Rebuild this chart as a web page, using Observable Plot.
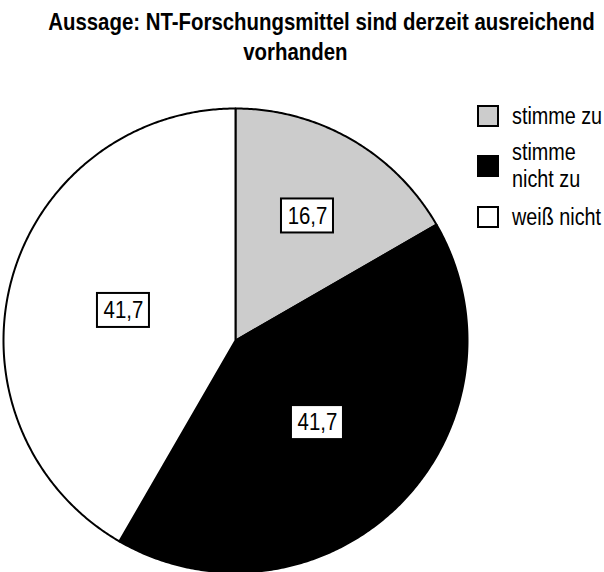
<!DOCTYPE html>
<html>
<head>
<meta charset="utf-8">
<script src="https://cdn.jsdelivr.net/npm/d3@7"></script>
<script src="https://cdn.jsdelivr.net/npm/@observablehq/plot@0.6"></script>
<style>
  html, body { margin: 0; padding: 0; background: #fff; }
  body { width: 604px; height: 572px; position: relative; overflow: hidden;
         font-family: "Liberation Sans", Arial, sans-serif; color: #000; }
  #title { position: absolute; left: 0; top: 7px; width: 590px; text-align: center;
           font-weight: bold; font-size: 24px; line-height: 30px; }
  #title span { display: inline-block; white-space: nowrap; transform: scaleX(0.85); transform-origin: 50% 50%; }
  #chart { position: absolute; left: 0; top: 100px; }
  .item { position: absolute; left: 477px; display: flex; align-items: center; font-size: 23px; line-height: 27px; }
  .sw { width: 18px; height: 18px; border: 2px solid #000; margin-right: 13px; flex: none; }
  .tx { white-space: nowrap; transform: scaleX(0.86); transform-origin: 0 50%; }
</style>
</head>
<body>
<div id="title"><span>Aussage: NT-Forschungsmittel sind derzeit ausreichend</span><br><span>vorhanden</span></div>
<div id="chart"></div>
<div id="legend"></div>
<script>
const categories = ["stimme zu", "stimme nicht zu", "weiß nicht"];
const legendLabels = [["stimme zu"], ["stimme", "nicht zu"], ["weiß nicht"]];
const values = [16.7, 41.7, 41.7];
const colors = ["#cccccc", "#000000", "#ffffff"];

// layout constants (pixels)
const W = 604, H = 472, CX = 235, CY = 240, R = 232;
const legendCenters = [116, 166, 217];

const arcs = d3.pie().sort(null).startAngle(0).endAngle(2 * Math.PI)(values);

const slicePts = [];
arcs.forEach((a, i) => {
  const cat = categories[i];
  slicePts.push({cat, x: 0, y: 0});
  const n = Math.max(2, Math.ceil((a.endAngle - a.startAngle) / (Math.PI / 360)));
  for (let k = 0; k <= n; k++) {
    const t = a.startAngle + (a.endAngle - a.startAngle) * k / n;
    slicePts.push({cat, x: Math.sin(t), y: Math.cos(t)});
  }
  slicePts.push({cat, x: 0, y: 0});
});

const fmt = v => String(v).replace(".", ",");
const bw = 52 / R, bh = 34 / R;
const labels = arcs.map((a, i) => {
  const mid = (a.startAngle + a.endAngle) / 2;
  const share = values[i] / d3.sum(values);
  const rr = share < 0.2 ? 0.62 : 0.5;
  return {cat: categories[i], x: rr * Math.sin(mid), y: rr * Math.cos(mid), text: fmt(values[i])};
});

const chart = Plot.plot({
  width: W, height: H,
  margin: 0,
  x: {domain: [-CX / R, (W - CX) / R], axis: null},
  y: {domain: [-(H - CY) / R, CY / R], axis: null},
  color: {domain: categories, range: colors},
  style: {fontFamily: '"Liberation Sans", Arial, sans-serif'},
  marks: [
    Plot.line(slicePts, {x: "x", y: "y", z: "cat", fill: "cat", stroke: "#000", strokeWidth: 2, strokeLinejoin: "round", curve: "linear"}),
    Plot.rect(labels, {x1: d => d.x - bw / 2, x2: d => d.x + bw / 2, y1: d => d.y - bh / 2, y2: d => d.y + bh / 2, fill: "#fff", stroke: "#000", strokeWidth: 2}),
    Plot.text(labels, {x: "x", y: "y", text: "text", fontSize: 24, fill: "#000"})
  ]
});
document.getElementById("chart").appendChild(chart);
// condense label glyphs to mimic a narrow face
chart.querySelectorAll("text").forEach(el => {
  const L = el.getComputedTextLength();
  if (L > 0) {
    el.setAttribute("textLength", (L * 0.85).toFixed(1));
    el.setAttribute("lengthAdjust", "spacingAndGlyphs");
  }
});

const leg = document.getElementById("legend");
categories.forEach((c, i) => {
  const it = document.createElement("div");
  it.className = "item";
  const sw = document.createElement("div");
  sw.className = "sw";
  sw.style.background = colors[i];
  const tx = document.createElement("div");
  tx.className = "tx";
  tx.innerHTML = legendLabels[i].join("<br>");
  it.appendChild(sw); it.appendChild(tx);
  leg.appendChild(it);
  const h = it.getBoundingClientRect().height;
  it.style.top = (legendCenters[i] - h / 2) + "px";
});
</script>
</body>
</html>
